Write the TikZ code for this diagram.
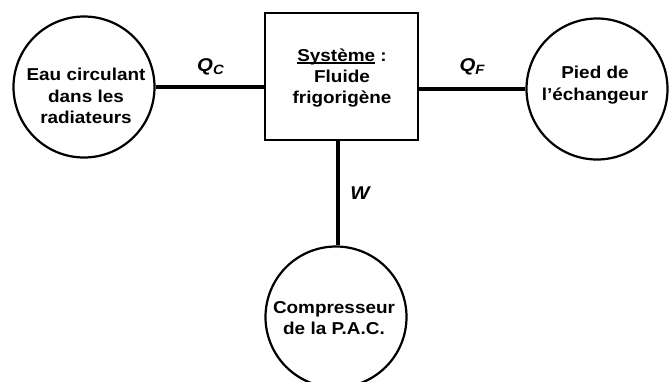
\documentclass[tikz,border=0pt]{standalone}
\usepackage{fontspec}
\setmainfont[FakeStretch=1.1]{Liberation Sans}
\newsavebox\myulbox
\newcommand\myul[1]{\sbox\myulbox{#1}\rlap{\rule[-2.6pt]{\wd\myulbox}{1.4pt}}\usebox\myulbox}
\begin{document}
\begin{tikzpicture}[x=1pt,y=-1pt,
  txt/.style={font=\fontsize{17.2}{21.3}\bfseries\selectfont, align=center, inner sep=0pt},
  blob/.style={draw, circle, line width=2.2pt, minimum size=141pt, inner sep=0pt},
  sysbox/.style={draw, rectangle, line width=1.8pt, minimum width=153pt, minimum height=127pt, inner sep=0pt},
  link/.style={line width=4.2pt},
  qlab/.style={font=\fontsize{18.5}{20}\bfseries\itshape\selectfont, inner sep=0pt}]
\useasboundingbox (0,0) rectangle (671,381);
\clip (0,0) rectangle (671,381);
\fill[white] (0,0) rectangle (671,381);
% shapes
\node[blob] (eau) at (84,87) {};
\node[blob] (pied) at (597,89) {};
\node[blob] (comp) at (336,317) {};
\node[sysbox] (sys) at (341.5,76.5) {};
% texts
\node[txt] (eauT) at (86,96) {Eau circulant\\dans les\\radiateurs};
\node[txt] (piedT) at (595,85) {Pied de\\l’échangeur};
\node[txt] (compT) at (334,318) {Compresseur\\de la P.A.C.};
\node[txt] (sysT) at (342,78) {\myul{Système} :\\Fluide\\frigorigène};
% connectors
\draw[link] (eau.east) -- (eau.east -| sys.west);
\draw[link] (sys.east |- pied.west) -- (pied.west);
\draw[link] (sys.south -| comp.north) ++(2,0) coordinate (wtop) -- (wtop |- comp.north);
% labels
\node[qlab] (qc) at (210.5,66.5) {Q\raisebox{-0.35ex}{\fontsize{13.5}{14}\selectfont C}};
\node[qlab] (qf) at (472,66.5) {Q\raisebox{-0.35ex}{\fontsize{13.5}{14}\selectfont F}};
\node[qlab] (w) at (360,193.5) {W};
\end{tikzpicture}
\end{document}
